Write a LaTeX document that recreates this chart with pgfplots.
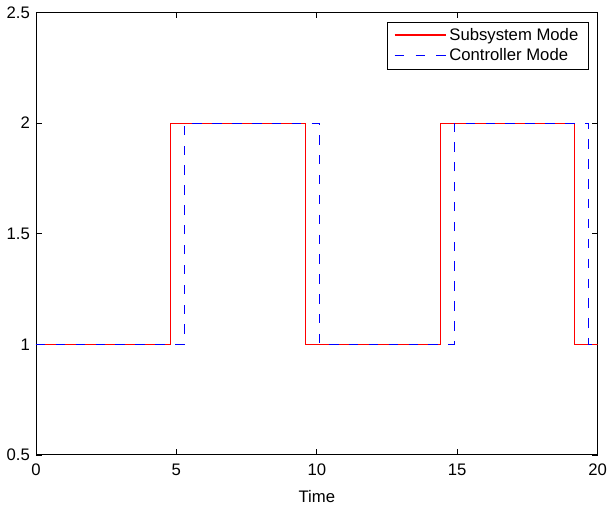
\documentclass[border=0pt]{standalone}
\usepackage{fontspec}
\setmainfont{Liberation Sans}
\usepackage{pgfplots}
\pgfplotsset{compat=1.18}
\begin{document}
\begin{tikzpicture}
\begin{axis}[
  scale only axis,
  width=370.2pt, height=291.5pt,
  xmin=0, xmax=20, ymin=0.5, ymax=2.5,
  xtick={0,5,10,15,20},
  ytick={0.5,1,1.5,2,2.5},
  font=\fontsize{11}{13}\selectfont,
  /pgf/number format/assume math mode=true,
  tick align=inside,
  major tick length=3.7pt,
  tick style={black, line width=0.5pt},
  axis line style={line width=0.6pt},
  xlabel={Time},
  xlabel style={yshift=-3pt},
  xticklabel style={yshift=-2.3pt},
  yticklabel style={xshift=-0.5pt},
  legend style={at={(1,1)}, anchor=north east, xshift=-6pt, yshift=-6pt,
    line width=0.5pt, font=\fontsize{11}{13}\selectfont,
    inner xsep=4.5pt, inner ysep=2pt, row sep=0pt,
    nodes={inner sep=2pt}},
  legend cell align=left,
]
\addplot[const plot, draw=red, line width=0.66pt,
  legend image code/.code={\draw[draw=red, line width=0.75pt] (0pt,0.2pt) -- (33.7pt,0.2pt);}] coordinates {
  (0,1) (4.79,2) (9.58,1) (14.40,2) (19.19,1) (20,1)
};
\addlegendentry{Subsystem Mode}
\addplot[const plot, draw=blue, line width=0.66pt, dash pattern=on 6.2pt off 6.9pt,
  legend image code/.code={\draw[draw=blue, line width=0.75pt, dash pattern=on 6.2pt off 7.55pt] (0pt,0.2pt) -- (33.7pt,0.2pt);}] coordinates {
  (0,1) (5.29,2) (10.10,1) (14.90,2) (19.68,1) (20,1)
};
\addlegendentry{Controller Mode}
\end{axis}
\path ([shift={(-23.7pt,-31.6pt)}]current axis.south west) rectangle ([shift={(6pt,8.3pt)}]current axis.north east);
\end{tikzpicture}
\end{document}
